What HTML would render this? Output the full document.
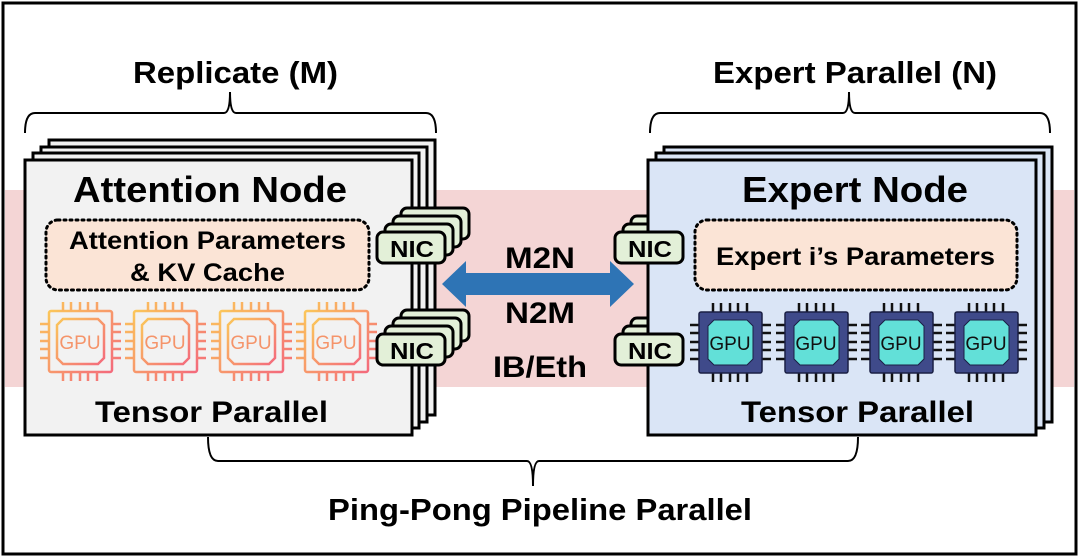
<!DOCTYPE html>
<html><head><meta charset="utf-8"><style>
html,body{margin:0;padding:0;background:#fff}
svg{display:block}
text{font-family:"Liberation Sans",Arial,sans-serif;font-weight:bold;fill:#000}
</style></head><body>
<svg width="1080" height="558" viewBox="0 0 1080 558" xmlns="http://www.w3.org/2000/svg">
<defs>
<linearGradient id="og" x1="0" y1="0" x2="1" y2="1">
<stop offset="0" stop-color="#fbc65a"/><stop offset="1" stop-color="#f46a7c"/>
</linearGradient>
<g id="gpuL" fill="none" stroke="url(#og)" stroke-width="2.5">
<rect x="0" y="0" width="63" height="61" rx="2"/>
<path d="M14 8 H49 L55 14 V47 L49 53 H14 L8 47 V14 Z"/>
<path d="M14 -9V0M22 -9V0M31 -9V0M39 -9V0M48 -9V0M14 61V70M22 61V70M31 61V70M39 61V70M48 61V70M-9 13H0M-9 21H0M-9 30H0M-9 38H0M-9 47H0M63 13H72M63 21H72M63 30H72M63 38H72M63 47H72"/>
</g>
<g id="gpuR">
<path d="M14 -9V0M22 -9V0M31 -9V0M39 -9V0M48 -9V0M14 61V70M22 61V70M31 61V70M39 61V70M48 61V70M-9 13H0M-9 21H0M-9 30H0M-9 38H0M-9 47H0M63 13H72M63 21H72M63 30H72M63 38H72M63 47H72" stroke="#111" stroke-width="2.5"/>
<rect x="0" y="0" width="63" height="61" rx="2" fill="#3f4a8a" stroke="#1a1f44" stroke-width="1.5"/>
<path d="M15 8 H48 L54 14 V47 L48 53 H15 L9 47 V14 Z" fill="#62e0d8" stroke="#1a1f44" stroke-width="1"/>
</g>
<g id="nic"><rect x="0" y="0" width="68" height="31" rx="6" fill="#e3f0d8" stroke="#000" stroke-width="3"/></g>
</defs>
<rect x="3" y="3" width="1073" height="551" fill="#fff" stroke="#000" stroke-width="3"/>
<rect x="5" y="190" width="1069" height="197" fill="#f4d5d5"/>
<path d="M25 133 Q25 113 35 113 H224 Q230 113 230 92 Q230 113 236 113 H426 Q436 113 436 133" fill="none" stroke="#000" stroke-width="2"/>
<path d="M650 133 Q650 113 660 113 H843 Q849 113 849 92 Q849 113 855 113 H1040 Q1050 113 1050 133" fill="none" stroke="#000" stroke-width="2"/>
<path d="M208 437 Q208 461 218 461 H527 Q533 461 533 486 Q533 461 539 461 H848 Q858 461 858 437" fill="none" stroke="#000" stroke-width="2"/>
<text x="133" y="83" font-size="31" textLength="205" lengthAdjust="spacingAndGlyphs">Replicate (M)</text>
<text x="713" y="83" font-size="31" textLength="284" lengthAdjust="spacingAndGlyphs">Expert Parallel (N)</text>
<text x="328" y="520" font-size="31" textLength="424" lengthAdjust="spacingAndGlyphs">Ping-Pong Pipeline Parallel</text>
<!-- left node stack -->
<rect x="49" y="140" width="386" height="275" fill="#f2f2f2" stroke="#000" stroke-width="3"/>
<rect x="41" y="147" width="386" height="275" fill="#f2f2f2" stroke="#000" stroke-width="3"/>
<rect x="33" y="153" width="386" height="275" fill="#f2f2f2" stroke="#000" stroke-width="3"/>
<rect x="25" y="160" width="387" height="275" fill="#f2f2f2" stroke="#000" stroke-width="3"/>
<text x="73" y="202" font-size="36" textLength="274" lengthAdjust="spacingAndGlyphs">Attention Node</text>
<rect x="46" y="220" width="323" height="70" rx="12" fill="#fbe4d6" stroke="#000" stroke-width="3" stroke-dasharray="2 4" stroke-linecap="round"/>
<text x="69" y="249" font-size="25" textLength="277" lengthAdjust="spacingAndGlyphs">Attention Parameters</text>
<text x="130" y="281" font-size="25" textLength="155" lengthAdjust="spacingAndGlyphs">&amp; KV Cache</text>
<use href="#gpuL" x="49" y="311"/><use href="#gpuL" x="134" y="311"/><use href="#gpuL" x="220" y="311"/><use href="#gpuL" x="305" y="311"/>
<text x="80" y="349" font-size="19" text-anchor="middle" style="fill:#f5946a;font-weight:normal">GPU</text>
<text x="165" y="349" font-size="19" text-anchor="middle" style="fill:#f5946a;font-weight:normal">GPU</text>
<text x="251" y="349" font-size="19" text-anchor="middle" style="fill:#f5946a;font-weight:normal">GPU</text>
<text x="336" y="349" font-size="19" text-anchor="middle" style="fill:#f5946a;font-weight:normal">GPU</text>
<text x="95" y="422" font-size="30" textLength="233" lengthAdjust="spacingAndGlyphs">Tensor Parallel</text>
<!-- left NICs -->
<use href="#nic" x="401" y="208"/><use href="#nic" x="393" y="216"/><use href="#nic" x="385" y="224"/><use href="#nic" x="377" y="232"/>
<text x="390" y="257" font-size="23" textLength="44" lengthAdjust="spacingAndGlyphs">NIC</text>
<use href="#nic" x="401" y="310"/><use href="#nic" x="393" y="318"/><use href="#nic" x="385" y="326"/><use href="#nic" x="377" y="334"/>
<text x="390" y="359" font-size="23" textLength="44" lengthAdjust="spacingAndGlyphs">NIC</text>
<!-- right behind NICs -->
<use href="#nic" x="631" y="216"/><use href="#nic" x="623" y="224"/>
<use href="#nic" x="631" y="318"/><use href="#nic" x="623" y="326"/>
<!-- right node stack -->
<rect x="664" y="147" width="388" height="275" fill="#dae5f6" stroke="#000" stroke-width="3"/>
<rect x="656" y="153" width="388" height="275" fill="#dae5f6" stroke="#000" stroke-width="3"/>
<rect x="648" y="160" width="388" height="275" fill="#dae5f6" stroke="#000" stroke-width="3"/>
<text x="742" y="202" font-size="36" textLength="226" lengthAdjust="spacingAndGlyphs">Expert Node</text>
<use href="#nic" x="615" y="232"/>
<text x="628" y="257" font-size="23" textLength="44" lengthAdjust="spacingAndGlyphs">NIC</text>
<use href="#nic" x="615" y="334"/>
<text x="628" y="359" font-size="23" textLength="44" lengthAdjust="spacingAndGlyphs">NIC</text>
<rect x="695" y="220" width="322" height="70" rx="12" fill="#fbe4d6" stroke="#000" stroke-width="3" stroke-dasharray="2 4" stroke-linecap="round"/>
<text x="716" y="265" font-size="25" textLength="279" lengthAdjust="spacingAndGlyphs">Expert i’s Parameters</text>
<use href="#gpuR" x="699" y="312"/><use href="#gpuR" x="785" y="312"/><use href="#gpuR" x="870" y="312"/><use href="#gpuR" x="955" y="312"/>
<text x="730" y="350" font-size="19" text-anchor="middle" style="font-weight:normal;fill:#111">GPU</text>
<text x="816" y="350" font-size="19" text-anchor="middle" style="font-weight:normal;fill:#111">GPU</text>
<text x="901" y="350" font-size="19" text-anchor="middle" style="font-weight:normal;fill:#111">GPU</text>
<text x="986" y="350" font-size="19" text-anchor="middle" style="font-weight:normal;fill:#111">GPU</text>
<text x="741" y="422" font-size="30" textLength="233" lengthAdjust="spacingAndGlyphs">Tensor Parallel</text>
<!-- arrow -->
<path d="M442 284 L466 261 V273 H610 V261 L634 284 L610 307 V295 H466 V307 Z" fill="#2e74b5"/>
<text x="505" y="268" font-size="30" textLength="70" lengthAdjust="spacingAndGlyphs">M2N</text>
<text x="505" y="323" font-size="30" textLength="70" lengthAdjust="spacingAndGlyphs">N2M</text>
<text x="493" y="377" font-size="30" textLength="94" lengthAdjust="spacingAndGlyphs">IB/Eth</text>
</svg>
</body></html>
